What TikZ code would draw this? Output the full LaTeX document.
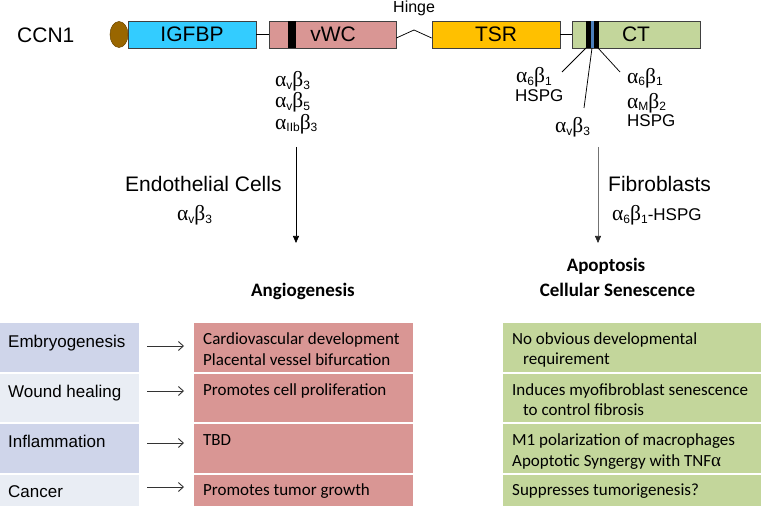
\documentclass[tikz,border=0pt]{standalone}
\usepackage{fontspec}
\setmainfont{Liberation Sans}
\newfontfamily\calfont{Carlito}
\newfontfamily\grkfont{Liberation Serif}
\usetikzlibrary{arrows.meta,shapes.geometric}
\definecolor{igfc}{HTML}{33CCFF}
\definecolor{vwcc}{HTML}{D99694}
\definecolor{tsrc}{HTML}{FFC000}
\definecolor{ctc}{HTML}{C3D69B}
\definecolor{brn}{HTML}{996600}
\definecolor{brnd}{HTML}{6B4700}
\definecolor{dk}{HTML}{404040}
\definecolor{bar}{HTML}{4A7EBB}
\definecolor{lftd}{HTML}{CFD5EA}
\definecolor{lftl}{HTML}{E9EDF4}
\newcommand\fsz[1]{\fontsize{#1bp}{#1bp}\selectfont}
\newcommand\gab[2]{{\grkfont\fsz{21.5}α}\raisebox{-2.5bp}{\fsz{12}#1}{\grkfont\fsz{21.5}β}\raisebox{-2.5bp}{\fsz{12}#2}}
\tikzset{
  dom/.style={draw=dk, line width=0.75bp, minimum height=27bp, inner sep=0pt, font=\fsz{21}},
  ln/.style={draw=black, line width=0.75bp},
  lbl/.style={anchor=base west, inner sep=0pt, font=\fsz{17}},
  big/.style={anchor=base west, inner sep=0pt, font=\fsz{21}},
  head/.style={anchor=base, inner sep=0pt, font=\calfont\bfseries\fsz{19}},
  ltxt/.style={anchor=base west, inner sep=0pt, font=\fsz{17}},
  ctxt/.style={anchor=base west, inner sep=0pt, font=\calfont\fsz{17}},
  cell/.style={anchor=north west, inner sep=0pt, outer sep=0pt, draw=none},
  mainarr/.style={line width=0.75bp, -{Triangle[length=7bp,width=6bp]}},
  tabarr/.style={line width=0.9bp, draw=black!80, -{Straight Barb[length=5bp,width=9bp]}}
}
\begin{document}
\begin{tikzpicture}[x=1bp,y=-1bp]
\useasboundingbox (0,0) rectangle (761,506);
% ---------- protein domains ----------
\node[big] (ccn) at (17,43) {CCN1};
\node[dom, fill=igfc, minimum width=128bp] (igfbp) at (192,34.5) {IGFBP};
\node[ellipse, draw=brnd, line width=0.5bp, fill=brn, minimum width=18bp, minimum height=26bp, inner sep=0pt] (sig) at (119,34.5) {};
\node[dom, fill=vwcc, minimum width=127bp] (vwc) at (332.5,34.5) {\phantom{v}};
\fill[black] (288,21.4) rectangle (296,47.6);
\node[inner sep=0pt, font=\fsz{21}] (vwct) at (333,34.5) {vWC};
\node[dom, fill=tsrc, minimum width=128bp] (tsr) at (496,34.5) {TSR};
\node[dom, fill=ctc, minimum width=128bp] (ct) at (636,34.5) {CT};
\fill[black] (586,21.4) rectangle (599,47.6);
\fill[bar] (591,21.4) rectangle (594,47.6);
\node[anchor=base west, inner sep=0pt, font=\fsz{16}] (hinge) at (393,12.5) {Hinge};
\coordinate (hpk) at (414,30);
\draw[ln] (igfbp.east) -- (vwc.west);
\draw[ln] ([yshift=-3.5bp]vwc.east) -- (hpk) -- ([yshift=-3.5bp]tsr.west);
\draw[ln] (tsr.east) -- (ct.west);
% ---------- binding sites ----------
\node[lbl] (v1) at (275,87) {\gab{v}{3}};
\node[lbl] (v2) at (275,108) {\gab{v}{5}};
\node[lbl] (v3) at (275,129.5) {\gab{IIb}{3}};
\coordinate (b1) at (586,48);
\coordinate (b2) at (592,48);
\coordinate (b3) at (598,48);
\coordinate (e1) at (562,72);
\coordinate (e2) at (584,108);
\coordinate (e3) at (620,72);
\draw[ln] (b1) -- (e1);
\draw[ln] (b2) -- (e2);
\draw[ln] (b3) -- (e3);
\node[lbl] (l1) at (516,83) {\gab{6}{1}};
\node[lbl] (l2) at (515,102) {HSPG};
\node[lbl] (r1) at (627,83.5) {\gab{6}{1}};
\node[lbl] (r2) at (627,108.5) {\gab{M}{2}};
\node[lbl] (r3) at (627,126.5) {HSPG};
\node[lbl] (m1) at (555,133) {\gab{v}{3}};
% ---------- pathways ----------
\coordinate (a1s) at (296,147);
\coordinate (a1e) at (296,243);
\coordinate (a2s) at (598,147);
\coordinate (a2e) at (598,243);
\draw[mainarr] (a1s) -- (a1e);
\draw[mainarr, draw=black!55, -{Triangle[length=7bp,width=6bp,color=black!85]}] (a2s) -- (a2e);
\node[big] (endo) at (125,192) {Endothelial Cells};
\node[lbl] (endoi) at (177,221) {\gab{v}{3}};
\node[big] (fib) at (608,192) {Fibroblasts};
\node[lbl] (fibi) at (612,221) {\gab{6}{1}-HSPG};
\node[head] (angio) at (303,297) {Angiogenesis};
\node[head] (apop) at (606,272) {Apoptosis};
\node[head] (sen) at (617.5,297) {Cellular Senescence};
% ---------- table ----------
\node[cell, fill=lftd, minimum width=139bp, minimum height=49bp] (L1) at (0,323) {};
\node[cell, fill=lftl, minimum width=139bp, minimum height=48bp] (L2) at (0,374) {};
\node[cell, fill=lftd, minimum width=139bp, minimum height=49bp] (L3) at (0,424) {};
\node[cell, fill=lftl, minimum width=139bp, minimum height=31bp] (L4) at (0,475) {};
\node[cell, fill=vwcc, minimum width=219bp, minimum height=49bp] (M1) at (194,323) {};
\node[cell, fill=vwcc, minimum width=219bp, minimum height=48bp] (M2) at (194,374) {};
\node[cell, fill=vwcc, minimum width=219bp, minimum height=49bp] (M3) at (194,424) {};
\node[cell, fill=vwcc, minimum width=219bp, minimum height=31bp] (M4) at (194,475) {};
\node[cell, fill=ctc, minimum width=258bp, minimum height=49bp] (R1) at (503,323) {};
\node[cell, fill=ctc, minimum width=258bp, minimum height=48bp] (R2) at (503,374) {};
\node[cell, fill=ctc, minimum width=258bp, minimum height=49bp] (R3) at (503,424) {};
\node[cell, fill=ctc, minimum width=258bp, minimum height=31bp] (R4) at (503,475) {};
\node[ltxt] (t1) at (8,347) {Embryogenesis};
\node[ltxt] (t2) at (8,397) {Wound healing};
\node[ltxt] (t3) at (8,447) {Inflammation};
\node[ltxt] (t4) at (8,497) {Cancer};
\node[ctxt] (c1a) at (203,344) {Cardiovascular development};
\node[ctxt] (c1b) at (203,365) {Placental vessel bifurcation};
\node[ctxt] (c2) at (203,395) {Promotes cell proliferation};
\node[ctxt] (c3) at (203,445) {TBD};
\node[ctxt] (c4) at (203,495) {Promotes tumor growth};
\node[ctxt] (d1a) at (512,344) {No obvious developmental};
\node[ctxt] (d1b) at (523,364.5) {requirement};
\node[ctxt] (d2a) at (512,395) {Induces myofibroblast senescence};
\node[ctxt] (d2b) at (523,415) {to control fibrosis};
\node[ctxt] (d3a) at (512,445.5) {M1 polarization of macrophages};
\node[ctxt] (d3b) at (512,466) {Apoptotic Syngergy with TNF{\grkfont\fsz{19}α}};
\node[ctxt] (d4) at (512,495) {Suppresses tumorigenesis?};
\coordinate (p1s) at (147,346); \coordinate (p1e) at (184,346);
\coordinate (p2s) at (147,391); \coordinate (p2e) at (184,391);
\coordinate (p3s) at (147,443); \coordinate (p3e) at (184,443);
\coordinate (p4s) at (147,487); \coordinate (p4e) at (184,487);
\draw[tabarr] (p1s) -- (p1e);
\draw[tabarr] (p2s) -- (p2e);
\draw[tabarr] (p3s) -- (p3e);
\draw[tabarr] (p4s) -- (p4e);
\end{tikzpicture}
\end{document}
